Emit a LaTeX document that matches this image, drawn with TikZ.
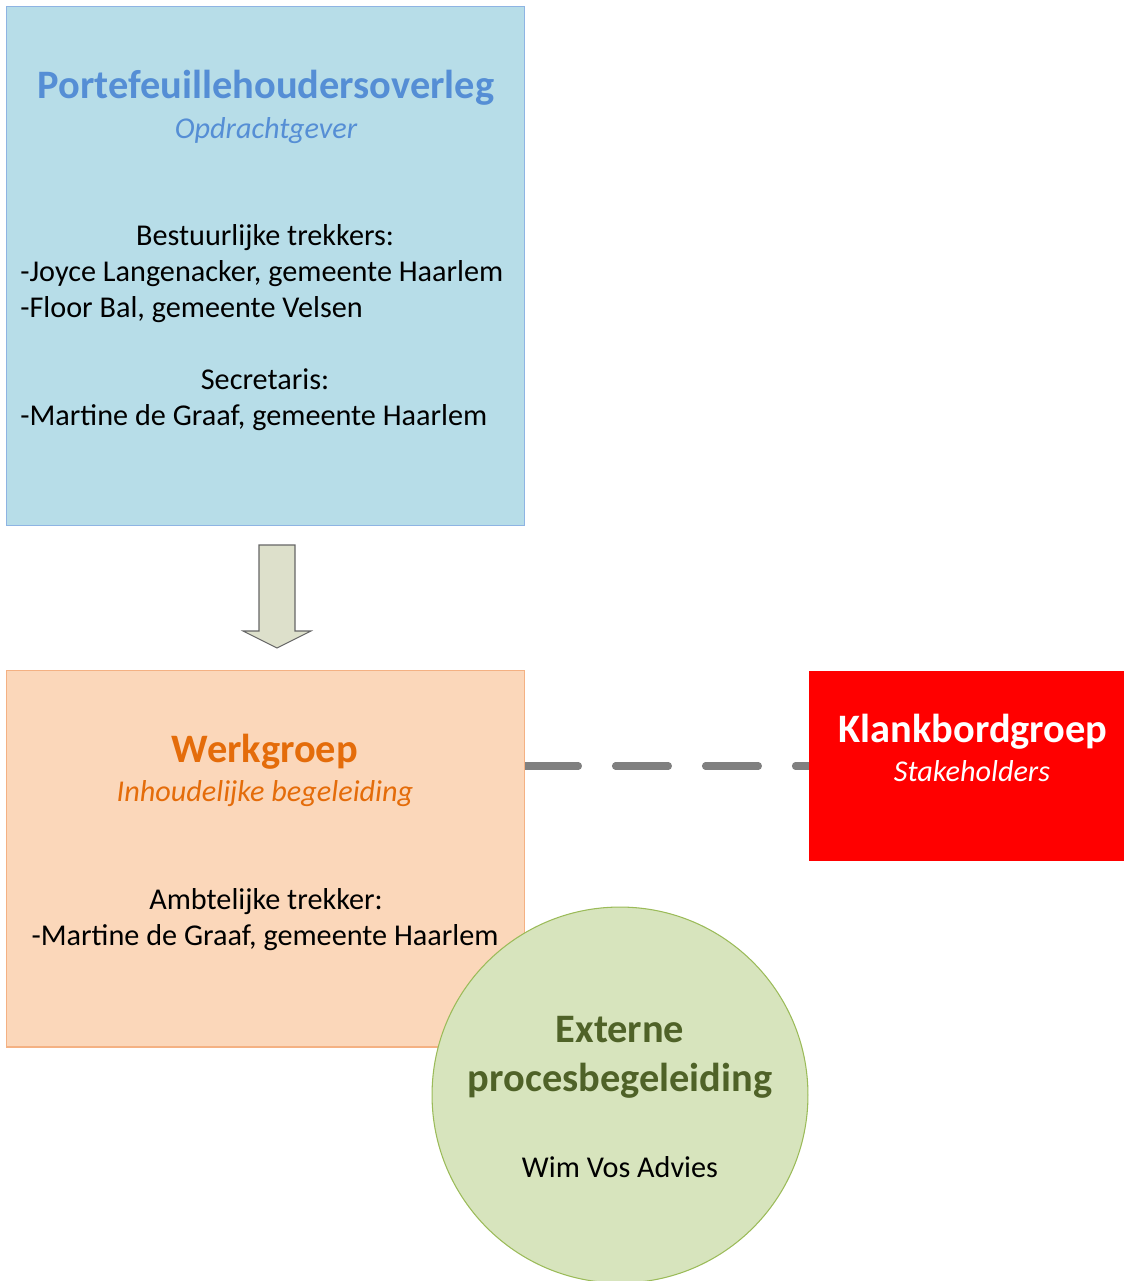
\documentclass[tikz,border=0pt]{standalone}
\usepackage{fontspec}
\setmainfont{Carlito}
\usepackage{xcolor}
\usetikzlibrary{positioning, calc, backgrounds}

\definecolor{porteblue}{HTML}{558ED5}
\definecolor{portefill}{HTML}{B7DDE8}
\definecolor{porteline}{HTML}{8EB4E3}
\definecolor{werkorange}{HTML}{E46C0A}
\definecolor{werkfill}{HTML}{FBD7BA}
\definecolor{werkline}{HTML}{F4B183}
\definecolor{procgreen}{HTML}{4F6228}
\definecolor{procfill}{HTML}{D7E4BD}
\definecolor{procline}{HTML}{9BBB59}
\definecolor{arrowfill}{HTML}{DDE0CB}

\begin{document}
\begin{tikzpicture}[
   x=0.02cm, y=-0.02cm,
   box/.style={rectangle, inner sep=0pt, line width=0.6pt},
   portebox/.style={box, draw=porteline, fill=portefill, minimum width=10.38cm, minimum height=10.4cm},
   werkbox/.style={box, draw=werkline, fill=werkfill, minimum width=10.38cm, minimum height=7.54cm},
   klankbox/.style={box, fill=red, minimum width=6.3cm, minimum height=3.8cm},
   procbox/.style={circle, inner sep=0pt, draw=procline, fill=procfill, line width=0.6pt, minimum size=7.52cm},
   title/.style={inner sep=0pt, anchor=base, font=\fontsize{23}{27}\selectfont\bfseries},
   sub/.style={inner sep=0pt, anchor=base, font=\fontsize{17.2}{20}\selectfont\itshape},
   txt/.style={inner sep=0pt, anchor=base, font=\fontsize{17.2}{20}\selectfont},
   lefttxt/.style={txt, anchor=base west},
   flow/.style={draw=gray!80!black, fill=arrowfill, line width=0.6pt},
   link/.style={draw=gray, line width=4pt, line cap=round, dash pattern=on 1.06cm off 0.74cm}
]
   \useasboundingbox (0,0) rectangle (1124,1281);

   % Boxes
   \node[portebox] (porte) at (265.5,266) {};
   \node[werkbox] (werk) at (265.5,858.5) {};
   \node[klankbox] (klank) at (966.5,766) {};

   % Portefeuillehoudersoverleg
   \node[title, text=porteblue] (portetitle) at (266,98) {Portefeuillehoudersoverleg};
   \node[sub, text=porteblue] (portesub) at (266,138) {Opdrachtgever};
   \node[txt] (bestuur) at (265,245) {Bestuurlijke trekkers:};
   \node[lefttxt] (joyce) at (20,281) {-Joyce Langenacker, gemeente Haarlem};
   \node[lefttxt] (floor) at (20,317) {-Floor Bal, gemeente Velsen};
   \node[txt] (secr) at (265,389) {Secretaris:};
   \node[lefttxt] (martine) at (20,425) {-Martine de Graaf, gemeente Haarlem};

   % Arrow down
   \draw[flow] (259,545) -- (295,545) -- (295,631) -- (311,631) -- (277,648)
      -- (243,631) -- (259,631) -- cycle;

   % Werkgroep
   \node[title, text=werkorange] (werktitle) at (265,762) {Werkgroep};
   \node[sub, text=werkorange] (werksub) at (265,801) {Inhoudelijke begeleiding};
   \node[txt] (ambt) at (266,909) {Ambtelijke trekker:};
   \node[txt] (martinetwo) at (265,945) {-Martine de Graaf, gemeente Haarlem};

   % Klankbordgroep
   \node[title, text=white] (klanktitle) at (973,742) {Klankbordgroep};
   \node[sub, text=white] (klanksub) at (972,781) {Stakeholders};
   \begin{scope}[on background layer]
      \draw[link] (werk.east |- klank.west) -- (klank.west);
   \end{scope}

   % Externe procesbegeleiding
   \node[procbox] (proc) at (620,1095) {};
   \node[title, text=procgreen] (proctitle) at (620,1042) {Externe};
   \node[title, text=procgreen] (proctitletwo) at (620,1091) {procesbegeleiding};
   \node[txt] (wim) at (620,1177) {Wim Vos Advies};
\end{tikzpicture}
\end{document}
